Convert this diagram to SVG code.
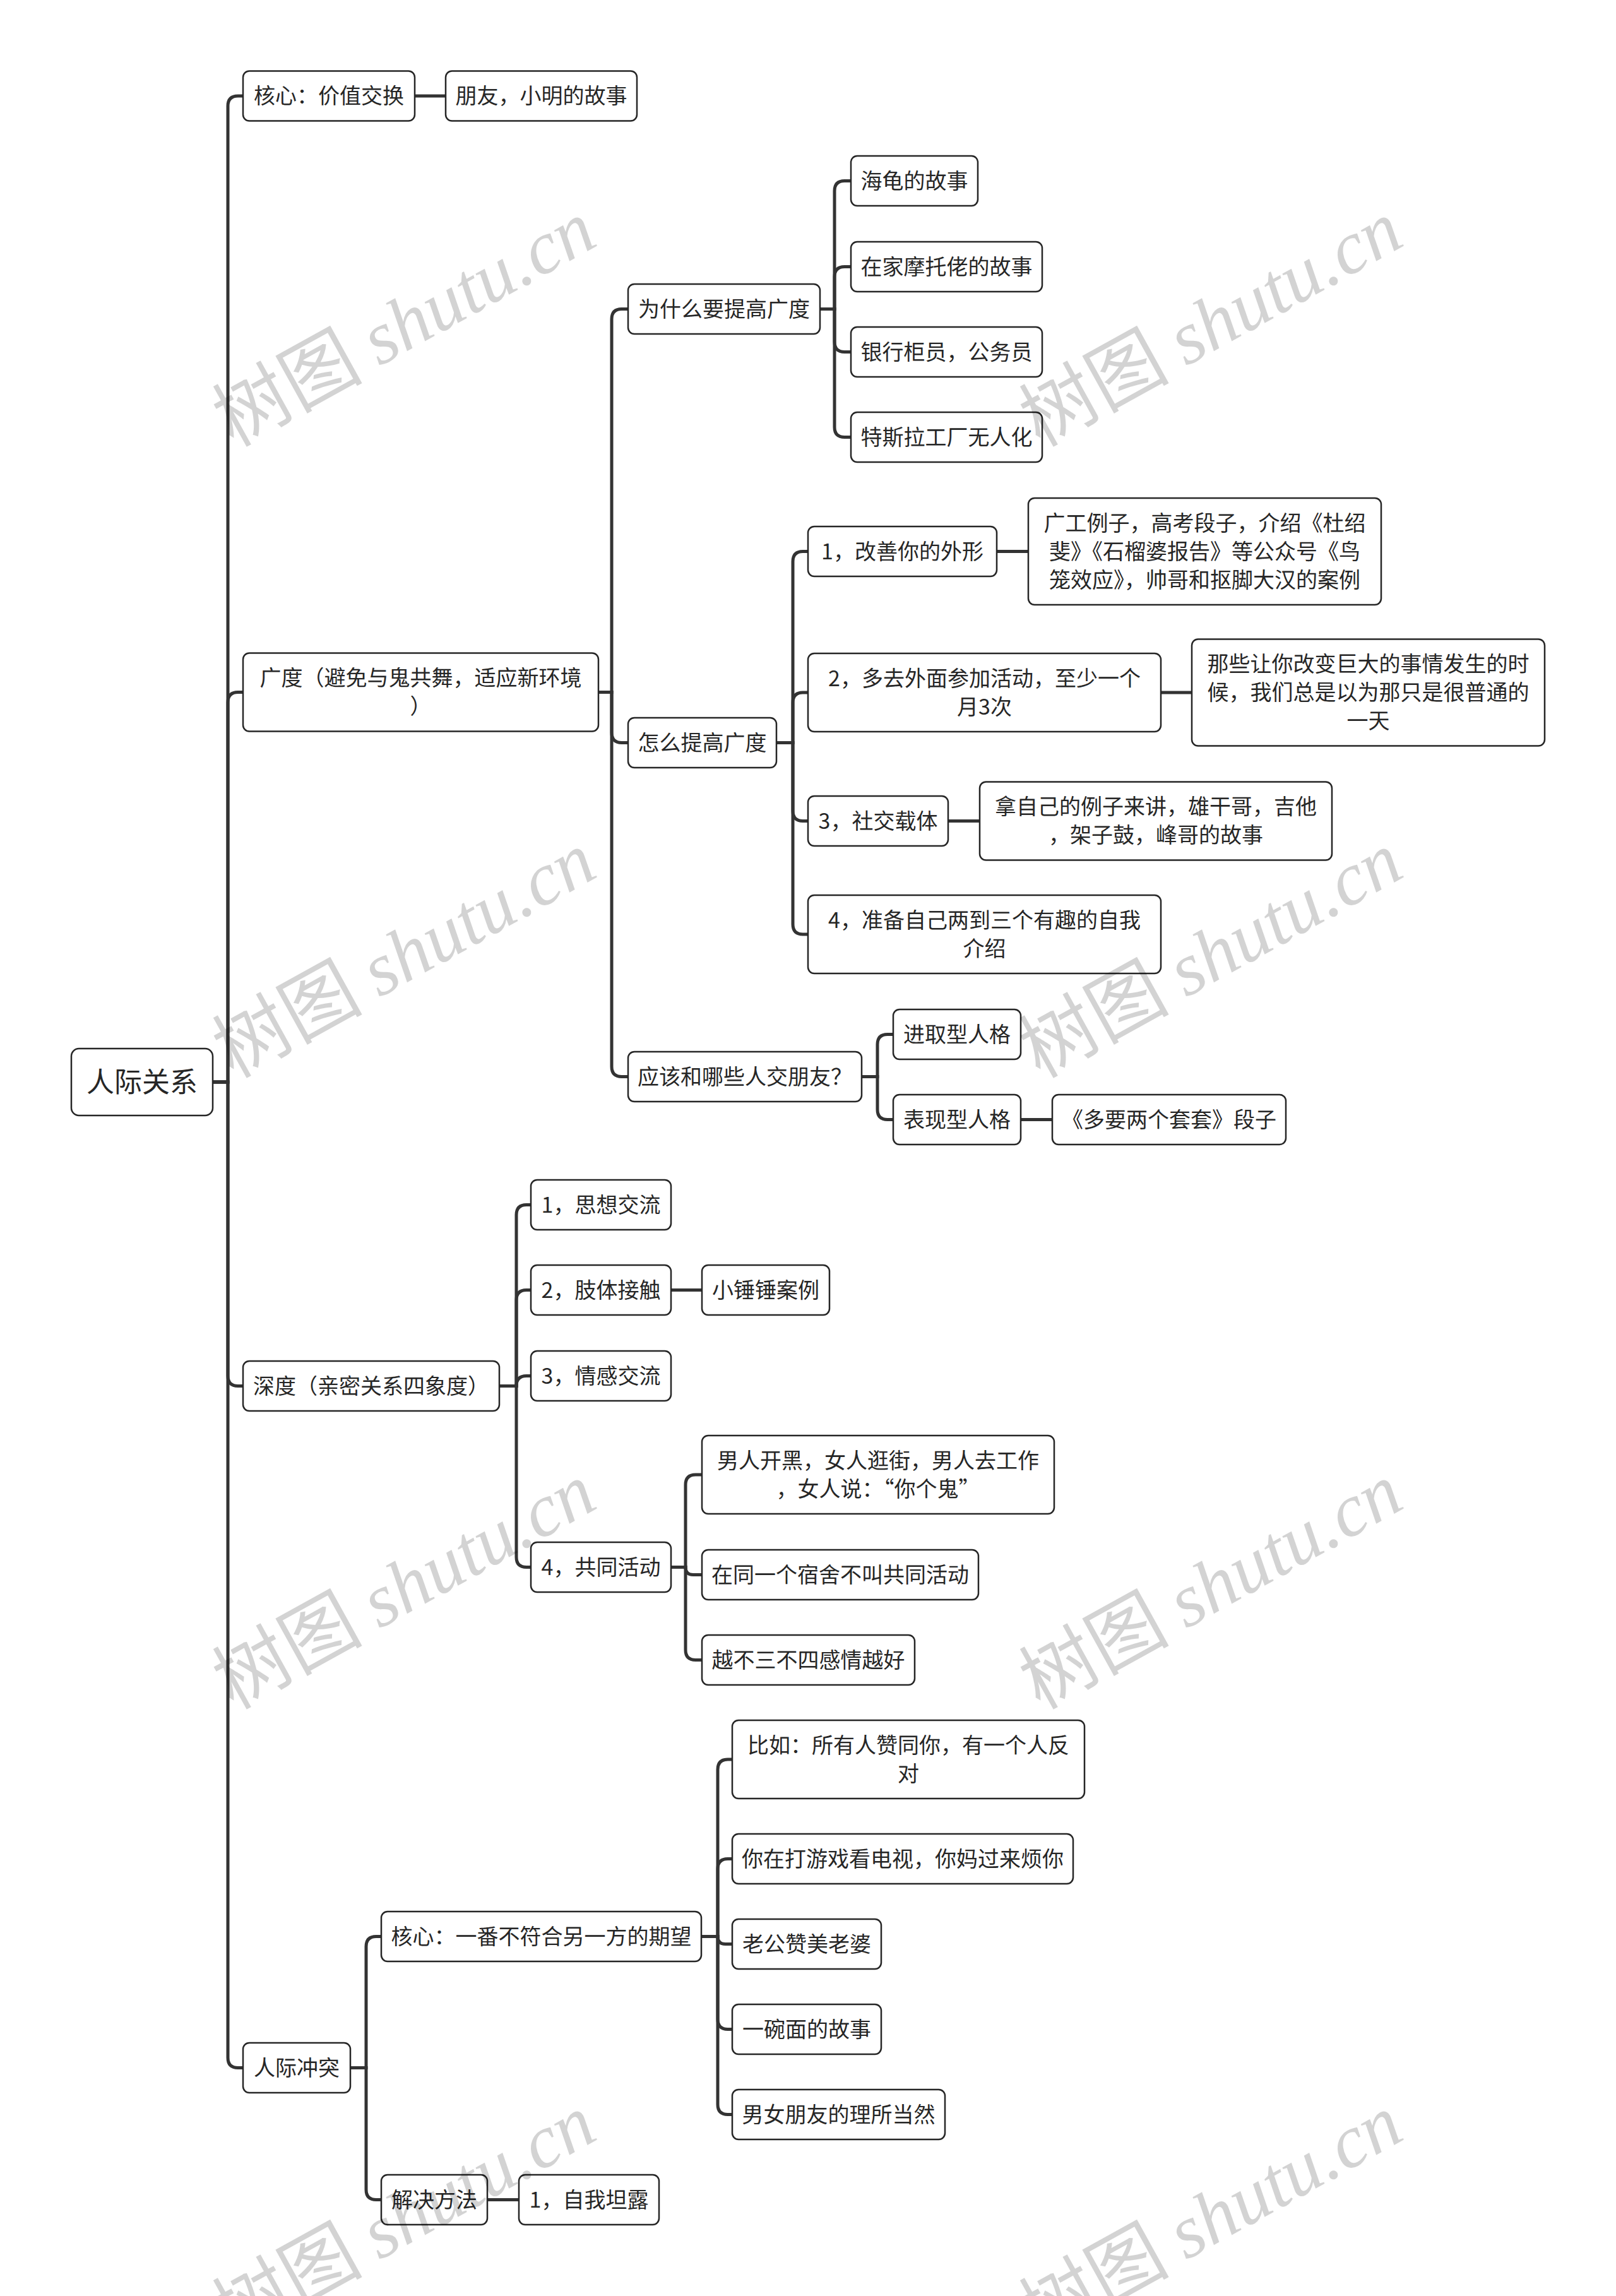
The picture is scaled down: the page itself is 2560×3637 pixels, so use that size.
<svg xmlns="http://www.w3.org/2000/svg" width="2560" height="3637" viewBox="0 0 2560 3637">
<style>
.n rect{fill:#fff;stroke:#262626;stroke-width:2.5}
.n text{font-family:"Noto Sans CJK SC","Liberation Sans",sans-serif;font-size:34px;fill:#262626;text-anchor:middle}
.n.root text{font-size:44px}
.c path{fill:none;stroke:#333;stroke-width:5}
.wm text{font-family:"Noto Sans CJK SC",serif;font-size:119px;fill:#000;opacity:0.17;text-anchor:middle}
.wm tspan{font-family:"Liberation Serif",serif;font-style:italic}
</style>
<rect width="2560" height="3637" fill="#fff"/>
<g class="c" id="connectors">
<path d="M337,1714 H361 V168 Q361,152 377,152 H385"/>
<path d="M337,1714 H361 V1112.5 Q361,1096.5 377,1096.5 H385"/>
<path d="M337,1714 H361 V2179.5 Q361,2195.5 377,2195.5 H385"/>
<path d="M337,1714 H361 V3259.5 Q361,3275.5 377,3275.5 H385"/>
<path d="M657,152 H706"/>
<path d="M948,1096.5 H969 V505.5 Q969,489.5 985,489.5 H995"/>
<path d="M948,1096.5 H969 V1160.5 Q969,1176.5 985,1176.5 H995"/>
<path d="M948,1096.5 H969 V1689.5 Q969,1705.5 985,1705.5 H995"/>
<path d="M1299,489.5 H1322 V302.5 Q1322,286.5 1338,286.5 H1348"/>
<path d="M1299,489.5 H1322 V438.5 Q1322,422.5 1338,422.5 H1348"/>
<path d="M1299,489.5 H1322 V541.5 Q1322,557.5 1338,557.5 H1348"/>
<path d="M1299,489.5 H1322 V676.5 Q1322,692.5 1338,692.5 H1348"/>
<path d="M1230,1176.5 H1256 V889.5 Q1256,873.5 1272,873.5 H1280"/>
<path d="M1230,1176.5 H1256 V1113 Q1256,1097 1272,1097 H1280"/>
<path d="M1230,1176.5 H1256 V1284.5 Q1256,1300.5 1272,1300.5 H1280"/>
<path d="M1230,1176.5 H1256 V1464 Q1256,1480 1272,1480 H1280"/>
<path d="M1579,873.5 H1629"/>
<path d="M1839,1097 H1888"/>
<path d="M1502,1300.5 H1552"/>
<path d="M1365,1705.5 H1390 V1654.5 Q1390,1638.5 1406,1638.5 H1415"/>
<path d="M1365,1705.5 H1390 V1757.5 Q1390,1773.5 1406,1773.5 H1415"/>
<path d="M1617,1773.5 H1667"/>
<path d="M791,2195.5 H818 V1924.5 Q818,1908.5 834,1908.5 H841"/>
<path d="M791,2195.5 H818 V2059.5 Q818,2043.5 834,2043.5 H841"/>
<path d="M791,2195.5 H818 Q818,2179.5 834,2179.5 H841"/>
<path d="M791,2195.5 H818 V2466.5 Q818,2482.5 834,2482.5 H841"/>
<path d="M1063,2043.5 H1112"/>
<path d="M1063,2482.5 H1086 V2352 Q1086,2336 1102,2336 H1112"/>
<path d="M1063,2482.5 H1086 Q1086,2494.5 1098,2494.5 H1112"/>
<path d="M1063,2482.5 H1086 V2613.5 Q1086,2629.5 1102,2629.5 H1112"/>
<path d="M555,3275.5 H580 V3083.5 Q580,3067.5 596,3067.5 H604"/>
<path d="M555,3275.5 H580 V3468.5 Q580,3484.5 596,3484.5 H604"/>
<path d="M772,3484.5 H822"/>
<path d="M1111,3067.5 H1137 V2803 Q1137,2787 1153,2787 H1160"/>
<path d="M1111,3067.5 H1137 V2960.5 Q1137,2944.5 1153,2944.5 H1160"/>
<path d="M1111,3067.5 H1137 Q1137,3079.5 1149,3079.5 H1160"/>
<path d="M1111,3067.5 H1137 V3198.5 Q1137,3214.5 1153,3214.5 H1160"/>
<path d="M1111,3067.5 H1137 V3333.5 Q1137,3349.5 1153,3349.5 H1160"/>
</g>
<g class="n root" id="root"><rect x="113" y="1661" width="224" height="106" rx="12"/><text x="225" y="1730">人际关系</text></g>
<g class="n" id="A"><rect x="385" y="112.5" width="272" height="79" rx="10"/><text x="521" y="164">核心：价值交换</text></g>
<g class="n" id="A1"><rect x="706" y="112.5" width="303" height="79" rx="10"/><text x="857.5" y="164">朋友，小明的故事</text></g>
<g class="n" id="B"><rect x="385" y="1034.5" width="563" height="124" rx="10"/><text x="666.5" y="1086">广度（避免与鬼共舞，适应新环境</text><text x="666.5" y="1131">）</text></g>
<g class="n" id="B1"><rect x="995" y="450" width="304" height="79" rx="10"/><text x="1147" y="501.5">为什么要提高广度</text></g>
<g class="n" id="B1a"><rect x="1348" y="247" width="201" height="79" rx="10"/><text x="1448.5" y="298.5">海龟的故事</text></g>
<g class="n" id="B1b"><rect x="1348" y="383" width="303" height="79" rx="10"/><text x="1499.5" y="434.5">在家摩托佬的故事</text></g>
<g class="n" id="B1c"><rect x="1348" y="518" width="303" height="79" rx="10"/><text x="1499.5" y="569.5">银行柜员，公务员</text></g>
<g class="n" id="B1d"><rect x="1348" y="653" width="303" height="79" rx="10"/><text x="1499.5" y="704.5">特斯拉工厂无人化</text></g>
<g class="n" id="B2"><rect x="995" y="1137" width="235" height="79" rx="10"/><text x="1112.5" y="1188.5">怎么提高广度</text></g>
<g class="n" id="B2a"><rect x="1280" y="834" width="299" height="79" rx="10"/><text x="1429.5" y="885.5">1，改善你的外形</text></g>
<g class="n" id="B2a1"><rect x="1629" y="789" width="559" height="169" rx="10"/><text x="1908.5" y="840.5">广工例子，高考段子，介绍《杜绍</text><text x="1908.5" y="885.5">斐》《石榴婆报告》等公众号《鸟</text><text x="1908.5" y="930.5">笼效应》，帅哥和抠脚大汉的案例</text></g>
<g class="n" id="B2b"><rect x="1280" y="1035" width="559" height="124" rx="10"/><text x="1559.5" y="1086.5">2，多去外面参加活动，至少一个</text><text x="1559.5" y="1131.5">月3次</text></g>
<g class="n" id="B2b1"><rect x="1888" y="1012.5" width="559" height="169" rx="10"/><text x="2167.5" y="1064">那些让你改变巨大的事情发生的时</text><text x="2167.5" y="1109">候，我们总是以为那只是很普通的</text><text x="2167.5" y="1154">一天</text></g>
<g class="n" id="B2c"><rect x="1280" y="1261" width="222" height="79" rx="10"/><text x="1391" y="1312.5">3，社交载体</text></g>
<g class="n" id="B2c1"><rect x="1552" y="1238.5" width="558" height="124" rx="10"/><text x="1831" y="1290">拿自己的例子来讲，雄干哥，吉他</text><text x="1831" y="1335">，架子鼓，峰哥的故事</text></g>
<g class="n" id="B2d"><rect x="1280" y="1418" width="559" height="124" rx="10"/><text x="1559.5" y="1469.5">4，准备自己两到三个有趣的自我</text><text x="1559.5" y="1514.5">介绍</text></g>
<g class="n" id="B3"><rect x="995" y="1666" width="370" height="79" rx="10"/><text x="1180" y="1717.5">应该和哪些人交朋友？</text></g>
<g class="n" id="B3a"><rect x="1415" y="1599" width="202" height="79" rx="10"/><text x="1516" y="1650.5">进取型人格</text></g>
<g class="n" id="B3b"><rect x="1415" y="1734" width="202" height="79" rx="10"/><text x="1516" y="1785.5">表现型人格</text></g>
<g class="n" id="B3b1"><rect x="1667" y="1734" width="370" height="79" rx="10"/><text x="1852" y="1785.5">《多要两个套套》段子</text></g>
<g class="n" id="C"><rect x="385" y="2156" width="406" height="79" rx="10"/><text x="588" y="2207.5">深度（亲密关系四象度）</text></g>
<g class="n" id="C1"><rect x="841" y="1869" width="222" height="79" rx="10"/><text x="952" y="1920.5">1，思想交流</text></g>
<g class="n" id="C2"><rect x="841" y="2004" width="222" height="79" rx="10"/><text x="952" y="2055.5">2，肢体接触</text></g>
<g class="n" id="C2a"><rect x="1112" y="2004" width="202" height="79" rx="10"/><text x="1213" y="2055.5">小锤锤案例</text></g>
<g class="n" id="C3"><rect x="841" y="2140" width="222" height="79" rx="10"/><text x="952" y="2191.5">3，情感交流</text></g>
<g class="n" id="C4"><rect x="841" y="2443" width="222" height="79" rx="10"/><text x="952" y="2494.5">4，共同活动</text></g>
<g class="n" id="C4a"><rect x="1112" y="2274" width="558" height="124" rx="10"/><text x="1391" y="2325.5">男人开黑，女人逛街，男人去工作</text><text x="1391" y="2370.5">，女人说：“你个鬼”</text></g>
<g class="n" id="C4b"><rect x="1112" y="2455" width="438" height="79" rx="10"/><text x="1331" y="2506.5">在同一个宿舍不叫共同活动</text></g>
<g class="n" id="C4c"><rect x="1112" y="2590" width="337" height="79" rx="10"/><text x="1280.5" y="2641.5">越不三不四感情越好</text></g>
<g class="n" id="D"><rect x="385" y="3236" width="170" height="79" rx="10"/><text x="470" y="3287.5">人际冲突</text></g>
<g class="n" id="D1"><rect x="604" y="3028" width="507" height="79" rx="10"/><text x="857.5" y="3079.5">核心：一番不符合另一方的期望</text></g>
<g class="n" id="D1a"><rect x="1160" y="2725" width="558" height="124" rx="10"/><text x="1439" y="2776.5">比如：所有人赞同你，有一个人反</text><text x="1439" y="2821.5">对</text></g>
<g class="n" id="D1b"><rect x="1160" y="2905" width="540" height="79" rx="10"/><text x="1430" y="2956.5">你在打游戏看电视，你妈过来烦你</text></g>
<g class="n" id="D1c"><rect x="1160" y="3040" width="236" height="79" rx="10"/><text x="1278" y="3091.5">老公赞美老婆</text></g>
<g class="n" id="D1d"><rect x="1160" y="3175" width="236" height="79" rx="10"/><text x="1278" y="3226.5">一碗面的故事</text></g>
<g class="n" id="D1e"><rect x="1160" y="3310" width="337" height="79" rx="10"/><text x="1328.5" y="3361.5">男女朋友的理所当然</text></g>
<g class="n" id="D2"><rect x="604" y="3445" width="168" height="79" rx="10"/><text x="688" y="3496.5">解决方法</text></g>
<g class="n" id="D2a"><rect x="822" y="3445" width="222" height="79" rx="10"/><text x="933" y="3496.5">1，自我坦露</text></g>
<g class="wm" id="watermarks">
<text transform="translate(660,548) rotate(-29)">树图 <tspan>shutu.cn</tspan></text>
<text transform="translate(1938,548) rotate(-29)">树图 <tspan>shutu.cn</tspan></text>
<text transform="translate(660,1548) rotate(-29)">树图 <tspan>shutu.cn</tspan></text>
<text transform="translate(1938,1548) rotate(-29)">树图 <tspan>shutu.cn</tspan></text>
<text transform="translate(660,2548) rotate(-29)">树图 <tspan>shutu.cn</tspan></text>
<text transform="translate(1938,2548) rotate(-29)">树图 <tspan>shutu.cn</tspan></text>
<text transform="translate(660,3548) rotate(-29)">树图 <tspan>shutu.cn</tspan></text>
<text transform="translate(1938,3548) rotate(-29)">树图 <tspan>shutu.cn</tspan></text>
</g>
</svg>
